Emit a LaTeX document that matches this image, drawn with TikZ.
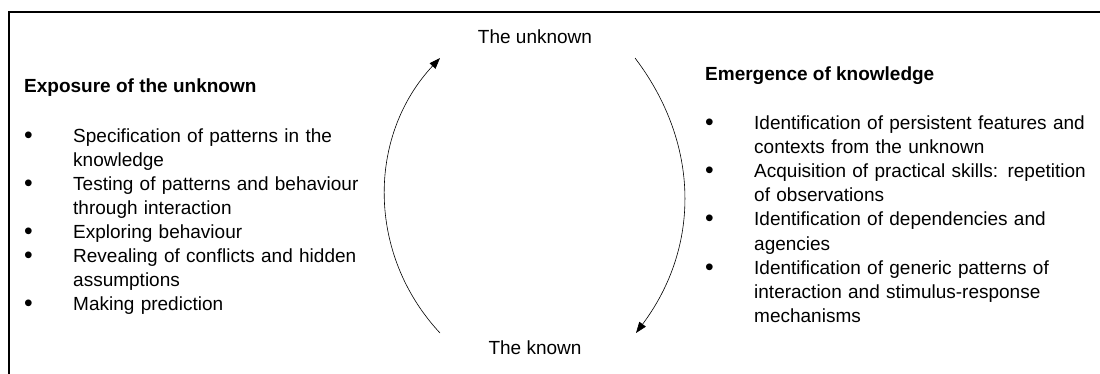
\documentclass[tikz,border=0pt]{standalone}
\usepackage{fontspec}
\setmainfont{Liberation Sans}
\usetikzlibrary{arrows.meta}

\newcommand{\bitem}[1]{\hangindent=49pt\hangafter=1\noindent\strut\makebox[49pt][l]{\raisebox{-1pt}{\scalebox{1.3}{\textbullet}}}#1\par}

\begin{document}
\begin{tikzpicture}[x=1pt, y=-1pt,
      txt/.style={font=\fontsize{19}{24.1}\selectfont, inner sep=0pt},
      head/.style={txt, font=\fontsize{19}{24.1}\selectfont\bfseries, anchor=base west},
      pole/.style={txt, anchor=base},
      items/.style={txt, anchor=north west, align=left},
      arr/.style={-{Triangle[length=11pt, width=8pt]}, line width=0.6pt},
      rim/.style={line width=2pt}
    ]
    \useasboundingbox (0,0) rectangle (1100,374);
    \draw[rim] (1100,12) -- (9,12) -- (9,374);

    \node[pole] (unknown) at (535, 44)  {The unknown};
    \node[pole] (known)   at (535, 354) {The known};

    \node[head] (exphead) at (24, 93) {Exposure of the unknown};
    \node[items, text width=355pt] (exposure) at (24, 125) {%
      \bitem{Specification of patterns in the\newline knowledge}%
      \bitem{Testing of patterns and behaviour\newline through interaction}%
      \bitem{Exploring behaviour}%
      \bitem{Revealing of conflicts and hidden\newline assumptions}%
      \bitem{Making prediction}};

    \node[head] (emehead) at (705, 81) {Emergence of knowledge};
    \node[items, text width=390pt] (emergence) at (705, 112.5) {%
      \bitem{Identification of persistent features and\newline contexts from the unknown}%
      \bitem{Acquisition of practical skills: repetition\newline of observations}%
      \bitem{Identification of dependencies and\newline agencies}%
      \bitem{Identification of generic patterns of\newline interaction and stimulus-response\newline mechanisms}};

    \coordinate (upfrom)   at (440, 333);
    \coordinate (upto)     at (440, 58);
    \coordinate (downfrom) at (635, 58);
    \coordinate (downto)   at (636, 333);

    \draw[arr] (upfrom)   to[bend left=43] (upto);
    \draw[arr] (downfrom) to[bend left=37] (downto);
  \end{tikzpicture}
\end{document}
